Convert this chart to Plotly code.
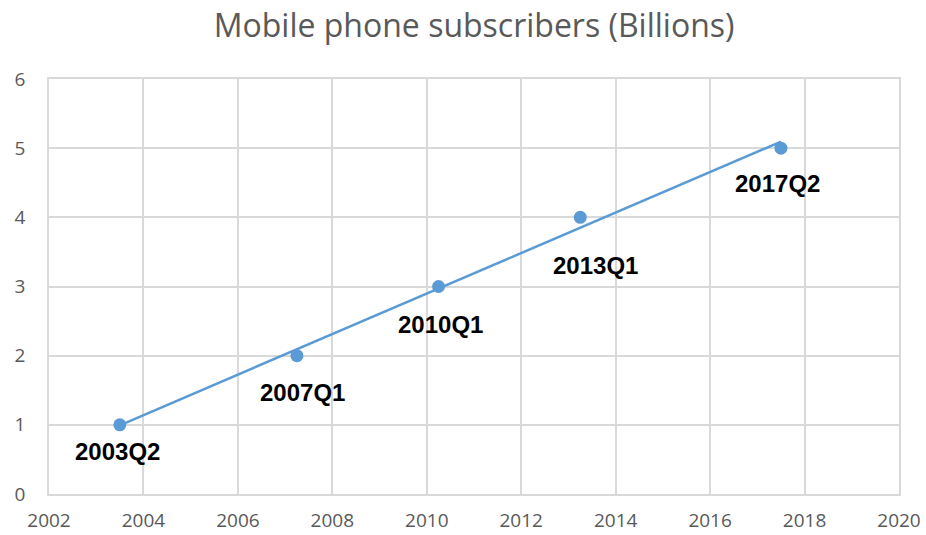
import numpy as np
import plotly.graph_objects as go

years = [2003.5, 2007.25, 2010.25, 2013.25, 2017.5]
subscribers = [1, 2, 3, 4, 5]
labels = ["2003Q2", "2007Q1", "2010Q1", "2013Q1", "2017Q2"]

# label offsets (pixels) relative to each point
label_dx = [-2, 6, 2, 15, -3]
label_dy = [27, 37, 38, 48, 35]

slope, intercept = np.polyfit(years, subscribers, 1)
trend_x = [min(years), max(years)]
trend_y = [slope * x + intercept for x in trend_x]

blue = "#5b9bd5"
fig = go.Figure()
fig.add_trace(go.Scatter(x=trend_x, y=trend_y, mode="lines",
                         line=dict(color=blue, width=2.5), hoverinfo="skip"))
fig.add_trace(go.Scatter(x=years, y=subscribers, mode="markers",
                         marker=dict(color=blue, size=13)))

for x, y, t, dx, dy in zip(years, subscribers, labels, label_dx, label_dy):
    fig.add_annotation(x=x, y=y, text="<b>" + t + "</b>", showarrow=False,
                       xshift=dx, yshift=-dy,
                       font=dict(family="Liberation Sans, Arial", size=24, color="#000000"))

fig.update_layout(
    width=926, height=535,
    margin=dict(l=49, r=27, t=79, b=41, autoexpand=False),
    paper_bgcolor="white", plot_bgcolor="white",
    showlegend=False,
    title=dict(text="Mobile phone subscribers (Billions)", x=0.512, xanchor="center",
               y=0.952, yanchor="middle",
               font=dict(family="Open Sans", size=32, color="#595959")),
    xaxis=dict(range=[2002, 2020], dtick=2, tick0=2002, showgrid=True,
               gridcolor="#d9d9d9", gridwidth=1.5, zeroline=False,
               showline=True, linecolor="#d9d9d9", linewidth=1.5, mirror=True,
               ticks="", ticklen=0, ticklabelstandoff=8, automargin=False,
               tickfont=dict(family="Open Sans", size=19, color="#595959")),
    yaxis=dict(range=[0, 6], dtick=1, showgrid=True,
               gridcolor="#d9d9d9", gridwidth=1.5, zeroline=False,
               showline=True, linecolor="#d9d9d9", linewidth=1.5, mirror=True,
               ticks="", ticklen=0, ticklabelstandoff=18, automargin=False,
               tickfont=dict(family="Open Sans", size=19, color="#595959")),
)

fig.write_html("out.html")
